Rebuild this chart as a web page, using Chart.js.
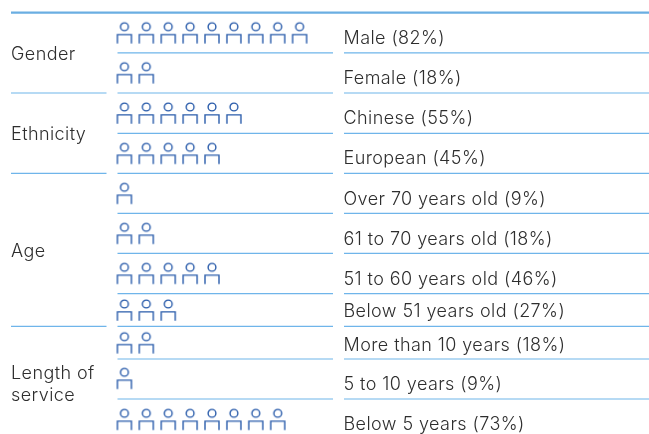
<!DOCTYPE html>
<html>
<head>
<meta charset="utf-8">
<style>
  html, body { margin: 0; padding: 0; background: #fff; }
</style>
<script src="https://cdn.jsdelivr.net/npm/chart.js@4/dist/chart.umd.min.js"></script>
</head>
<body>
<canvas id="chartPeople" width="649" height="434" style="display:block"></canvas>
<script>
// data
var rowLabels = ['Male', 'Female', 'Chinese', 'European', 'Over 70 years old', '61 to 70 years old',
                 '51 to 60 years old', 'Below 51 years old', 'More than 10 years', '5 to 10 years', 'Below 5 years'];
var rowShares = [82, 18, 55, 45, 9, 18, 46, 27, 18, 9, 73];
var iconCounts = [9, 2, 6, 5, 1, 2, 5, 3, 2, 1, 8];
var groupLabels = ['Gender', 'Ethnicity', 'Age', ['Length of', 'service']];
var groupLastRows = [1, 3, 7, 10];

// layout, in canvas pixels: rows are not all the same height
var rowEdges = [12.6, 52.8, 93, 133.3, 173.3, 213.3, 253.3, 293.6, 326.3, 359, 399];
var rowCentres = [32.7, 72.7, 113, 153.3, 193.3, 233.3, 273.3, 310, 342.7, 378.3, 419.3];
var rowBaselines = [44, 83.7, 124, 164, 204.5, 245, 285, 317, 350.7, 390, 430];
var groupBaselines = [[60], [140], [257], [379, 401]];
var iconStep = 21.9, iconLeft = 124.4;
var textFont = '300 18px Inter, sans-serif';

// y scale that places row numbers through the layout above
class RowScale extends Chart.LinearScale {
    getPixelForValue(value) {
        var i = Math.floor(value);
        if (value < 0) return rowEdges[0] + (value + 0.5) * 2 * (rowCentres[0] - rowEdges[0]);
        if (value - i < 0.5 || i + 1 >= rowEdges.length) return rowCentres[i];
        return rowEdges[i + 1];
    }
}
RowScale.id = 'rows';
RowScale.defaults = {};
Chart.register(RowScale);

function makeIcon() {
    var c = document.createElement('canvas');
    c.width = 18;
    c.height = 24;
    var g = c.getContext('2d');
    g.strokeStyle = '#2a5cab';
    g.lineWidth = 1.4;
    g.beginPath();
    g.arc(9, 6, 3.9, 0, Math.PI * 2);
    g.stroke();
    g.beginPath();
    g.moveTo(2, 22.8);
    g.lineTo(2, 13.9);
    g.lineTo(16, 13.9);
    g.lineTo(16, 22.8);
    g.stroke();
    return c;
}

var points = [];
iconCounts.forEach(function (count, row) {
    for (var n = 0; n < count; n++) points.push({ x: n, y: row });
});

var tablePlugin = {
    id: 'tablePlugin',
    beforeDatasetsDraw: function (chart) {
        var ctx = chart.ctx, y = chart.scales.y;
        ctx.save();
        ctx.strokeStyle = '#6aaee2';
        ctx.lineWidth = 2.4;
        ctx.beginPath();
        ctx.moveTo(11, rowEdges[0]);
        ctx.lineTo(649, rowEdges[0]);
        ctx.stroke();
        ctx.strokeStyle = '#6fb5ea';
        ctx.lineWidth = 1.2;
        for (var i = 0; i < rowLabels.length - 1; i++) {
            var py = y.getPixelForValue(i + 0.5);
            ctx.beginPath();
            if (groupLastRows.indexOf(i) >= 0) {
                ctx.moveTo(11, py);
                ctx.lineTo(106.5, py);
            }
            ctx.moveTo(117.5, py);
            ctx.lineTo(333, py);
            ctx.moveTo(344, py);
            ctx.lineTo(649, py);
            ctx.stroke();
        }
        ctx.fillStyle = '#2e2e2e';
        ctx.font = textFont;
        ctx.letterSpacing = '0.42px';
        ctx.textBaseline = 'alphabetic';
        rowLabels.forEach(function (label, i) {
            ctx.fillText(label + ' (' + rowShares[i] + '%)', 343.5, rowBaselines[i]);
        });
        groupLabels.forEach(function (label, i) {
            [].concat(label).forEach(function (line, k) {
                ctx.fillText(line, 11, groupBaselines[i][k]);
            });
        });
        ctx.restore();
    }
};

var ctx = document.getElementById('chartPeople').getContext('2d');
var myChart = new Chart(ctx, {
    type: 'scatter',
    data: {
        datasets: [{
            data: points,
            pointStyle: makeIcon(),
            pointRadius: 10
        }]
    },
    options: {
        responsive: false,
        animation: false,
        layout: { padding: 0, autoPadding: false },
        plugins: { legend: { display: false }, tooltip: { enabled: false } },
        scales: {
            x: { type: 'linear', display: false, bounds: 'data', min: -iconLeft / iconStep, max: (649 - iconLeft) / iconStep },
            y: { type: 'rows', display: false, min: -0.5, max: 10.5 }
        }
    },
    plugins: [tablePlugin]
});
</script>
</body>
</html>
